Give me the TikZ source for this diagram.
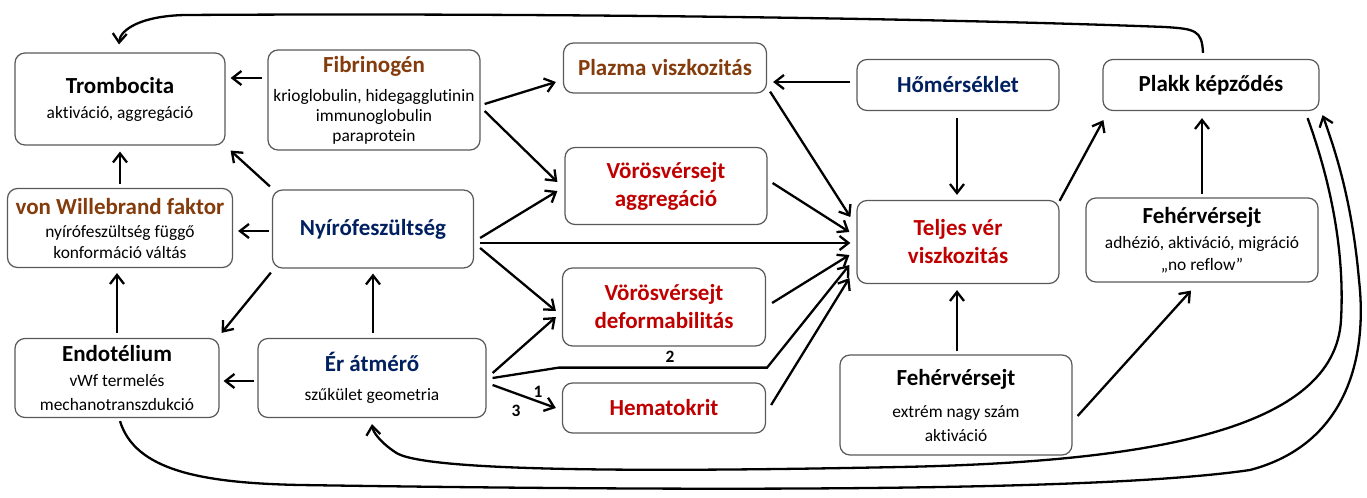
\documentclass[tikz,border=0pt]{standalone}
\usepackage{fontspec}
\setmainfont{Carlito}[Ligatures=NoCommon]
\usetikzlibrary{arrows.meta,calc}
\definecolor{barna}{RGB}{132,60,12}
\definecolor{kek}{RGB}{0,32,96}
\definecolor{piros}{RGB}{192,0,0}
\newcommand{\fc}[2]{{\fontsize{11.5}{13}\selectfont\bfseries\color{#1}#2}}
\tikzset{
	doboz/.style={draw=black!65,line width=0.6pt,rounded corners=5pt,fill=white,align=center,inner sep=0pt,font=\fontsize{8.7}{11}\selectfont},
	nyil/.style={line width=1.15pt,-{Straight Barb[length=4.5pt,width=7pt]}},
	szam/.style={font=\fontsize{8.7}{10}\selectfont\bfseries,inner sep=0pt},
}
\begin{document}
\begin{tikzpicture}[x=0.5pt,y=-0.5pt]
\useasboundingbox (0,0) rectangle (1367,498);

% left column
\node[doboz,minimum width=105pt,minimum height=46pt] (trom) at (120,99) {\fc{black}{Trombocita}\\[1.5pt] aktiváció, aggregáció};
\node[doboz,minimum width=106pt,minimum height=50pt,font=\fontsize{8.7}{10}\selectfont] (fib) at (374,100) {\fc{barna}{Fibrinogén}\\[4.5pt] krioglobulin, hidegagglutinin\\ immunoglobulin\\ paraprotein};
\node[doboz,minimum width=112.5pt,minimum height=39.5pt] (vwf) at (120,228) {\fc{barna}{von Willebrand faktor}\\[0.5pt] nyírófeszültség függő\\[-0.5pt] konformáció váltás};
\node[doboz,minimum width=100.5pt,minimum height=39pt] (nyiro) at (373,229) {\fc{kek}{Nyírófeszültség}};
\node[doboz,minimum width=102pt,minimum height=39.5pt] (endo) at (117,378) {\fc{black}{Endotélium}\\[1.5pt] vWf termelés\\[1pt] mechanotranszdukció};
\node[doboz,minimum width=114pt,minimum height=39.5pt] (er) at (372,378) {\fc{kek}{Ér átmérő}\\[3.5pt] szűkület geometria};

% middle column
\node[doboz,minimum width=101.5pt,minimum height=25pt] (plazma) at (665,68) {\fc{barna}{Plazma viszkozitás}};
\node[doboz,minimum width=101pt,minimum height=38.5pt] (vvsaggr) at (666,186) {\fc{piros}{Vörösvérsejt}\\[3pt] \fc{piros}{aggregáció}};
\node[doboz,minimum width=101.5pt,minimum height=39pt] (vvsdef) at (664,307) {\fc{piros}{Vörösvérsejt}\\[3pt] \fc{piros}{deformabilitás}};
\node[doboz,minimum width=101.5pt,minimum height=25pt] (hemat) at (664,408) {\fc{piros}{Hematokrit}};

% right part
\node[doboz,minimum width=101pt,minimum height=25.5pt] (hom) at (958,85) {\fc{kek}{Hőmérséklet}};
\node[doboz,minimum width=108pt,minimum height=25.5pt] (plakk) at (1211,85) {\fc{black}{Plakk képződés}};
\node[doboz,minimum width=101pt,minimum height=41.5pt] (teljes) at (958,242) {\fc{piros}{Teljes vér}\\[3pt] \fc{piros}{viszkozitás}};
\node[doboz,minimum width=116pt,minimum height=42pt] (fvs1) at (1202,240) {\fc{black}{Fehérvérsejt}\\[1.5pt] adhézió, aktiváció, migráció\\ „no reflow”};
\node[doboz,minimum width=116pt,minimum height=50pt] (fvs2) at (956,405) {\fc{black}{Fehérvérsejt}\\[5pt] extrém nagy szám\\[1pt] aktiváció};

% left arrows
\draw[nyil] ($(fib.west)+(-5,-22)$) -- ($(trom.east)+(5,-21)$);
\draw[nyil] ($(nyiro.north west)+(-2,-3)$) -- ($(trom.south east)+(5,5)$);
\draw[nyil] ($(vwf.north)+(0,-4)$) -- ($(trom.south)+(0,6)$);
\draw[nyil] ($(nyiro.west)+(-3,2)$) -- ($(vwf.east)+(5,3)$);
\draw[nyil] ($(endo.north)+(0,-5)$) -- ($(vwf.south)+(-3,5)$);
\draw[nyil] ($(nyiro.south west)+(-1,4)$) -- ($(endo.north east)+(2,-5)$);
\draw[nyil] ($(er.north)+(1,-5)$) -- ($(nyiro.south)+(0,5)$);
\draw[nyil] ($(er.west)+(-3,3)$) -- ($(endo.east)+(4,3)$);

% into the middle column
\draw[nyil] ($(fib.east)+(4,4)$) -- ($(plazma.west)+(-7,14)$);
\draw[nyil] ($(fib.east)+(4,11)$) -- ($(vvsaggr.west)+(-7,-4)$);
\draw[nyil] ($(nyiro.east)+(6,9)$) -- ($(vvsaggr.west)+(-7,5)$);
\draw[nyil] ($(nyiro.east)+(6,14)$) -- ($(teljes.west)+(-6,1)$);
\draw[nyil] ($(nyiro.east)+(6,19)$) -- ($(vvsdef.west)+(-6,4)$);
\draw[nyil] ($(er.east)+(6,-5)$) -- ($(vvsdef.west)+(-6,10)$);
\draw[nyil] ($(er.east)+(6,0)$) -- ($(vvsdef.south west)+(-3,21)$) -- ($(vvsdef.south east)+(1,21)$) -- ($(teljes.west)+(-7,23)$);
\draw[nyil] ($(er.east)+(6,7)$) -- ($(hemat.west)+(-6,0)$);
\node[szam] (n1) at (538,392) {1};
\node[szam] (n2) at (670,357) {2};
\node[szam] (n3) at (516,411) {3};

% into teljes ver
\draw[nyil] ($(plazma.south east)+(3,-2)$) -- ($(teljes.west)+(-6,-25)$);
\draw[nyil] ($(hom.west)+(-6,-3)$) -- ($(plazma.east)+(6,14)$);
\draw[nyil] ($(vvsaggr.east)+(5,-3)$) -- ($(teljes.west)+(-7,-10)$);
\draw[nyil] ($(vvsdef.east)+(6,-4)$) -- ($(teljes.west)+(-7,13)$);
\draw[nyil] ($(hemat.east)+(5,-3)$) -- ($(teljes.west)+(-7,36)$);
\draw[nyil] ($(hom.south)+(-1,7)$) -- ($(teljes.north)+(-1,-5)$);
\draw[nyil] ($(fvs2.north)+(1,-3)$) -- ($(teljes.south)+(-1,6)$);
\draw[nyil] ($(fvs2.east)+(5,11)$) -- ($(fvs1.south)+(-11,8)$);
\draw[nyil] ($(teljes.north east)+(0,1)$) -- ($(plakk.south west)+(1,9)$);
\draw[nyil] ($(fvs1.north)+(0,-3)$) -- ($(plakk.south)+(-9,7)$);

% long curves
\draw[nyil] ($(plakk.north)+(-8,-6)$) .. controls (1202,30) and (1195,29) .. (1165,27) .. controls (900,17) and (500,13) .. (185,15) .. controls (140,16) and (120,30) .. ($(trom.north)+(-1,-8)$);
\draw[nyil] ($(plakk.south east)+(-12,7)$) .. controls (1330,180) and (1345,250) .. (1341,320) .. controls (1335,430) and (1150,462) .. (900,467) .. controls (650,472) and (420,472) .. (395,452) .. controls (380,442) and (373,432) .. ($(er.south)+(0,6)$);
\draw[nyil] ($(endo.south)+(3,3)$) .. controls (135,470) and (200,483) .. (300,485) .. controls (700,491) and (1100,492) .. (1250,470) .. controls (1345,445) and (1368,360) .. (1359,280) .. controls (1352,200) and (1335,150) .. ($(plakk.south east)+(3,4)$);
\end{tikzpicture}
\end{document}
